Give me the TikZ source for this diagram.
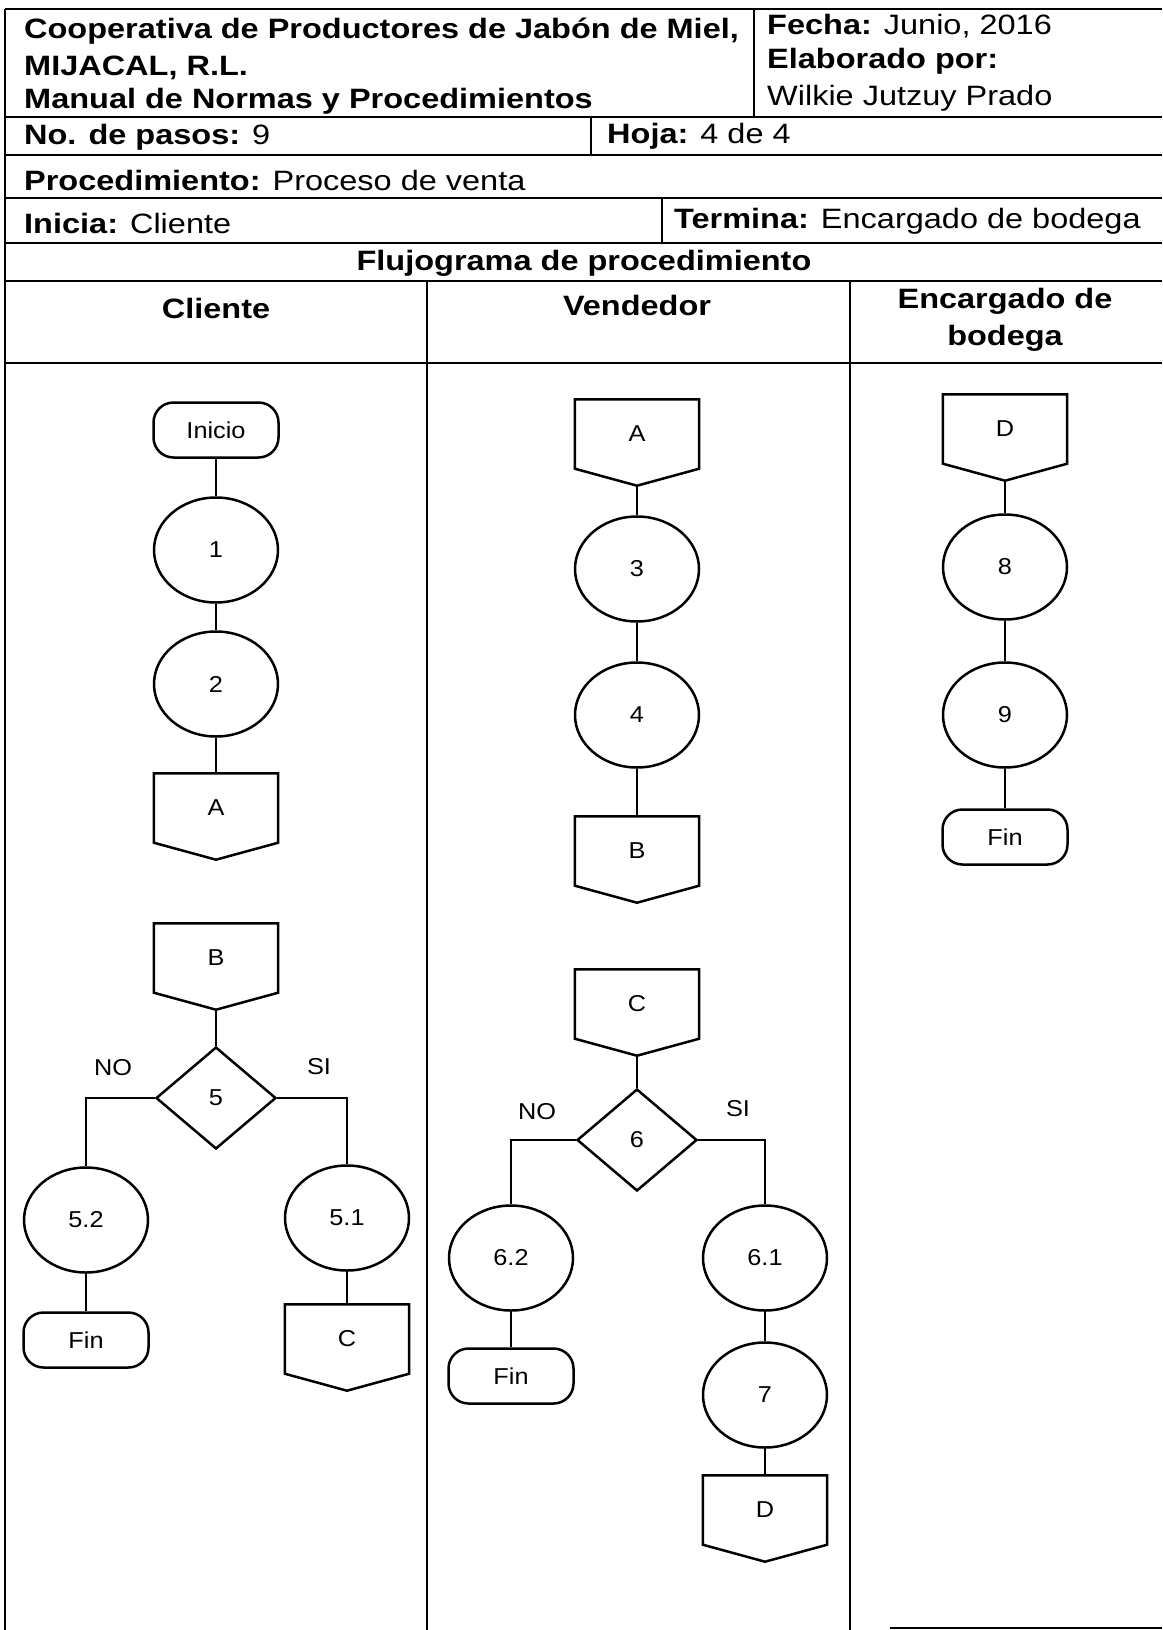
\documentclass[tikz,border=0pt]{standalone}
\usepackage{fontspec}
\setmainfont{Liberation Sans}
\usepackage{graphicx}
\usetikzlibrary{shapes.geometric,calc}
% the printed sheet uses a slightly widened Arial-like face
\newcommand\wide[1]{\scalebox{1.16}[1]{#1}}
\newcommand\fwide[1]{\scalebox{1.1}[1]{#1}}
\begin{document}
\begin{tikzpicture}[x=1pt,y=-1pt,
  grid/.style={line width=1.8pt},
  hdr/.style={anchor=west,inner sep=0pt,font=\fontsize{28}{32}\selectfont},
  colhead/.style={inner sep=0pt,font=\fontsize{28}{32}\selectfont\bfseries},
  flow/.style={draw,line width=2.5pt,font=\fontsize{23}{26}\selectfont,inner sep=0pt},
  term/.style={flow,rectangle,rounded corners=20pt,minimum width=125pt,minimum height=55pt},
  proc/.style={flow,ellipse,minimum width=124pt,minimum height=105pt},
  dec/.style={flow,diamond,minimum width=120pt,minimum height=102pt},
  offpage/.style={inner sep=0pt,font=\fontsize{23}{26}\selectfont,minimum width=124pt,minimum height=69pt},
  link/.style={line width=2.5pt},
  lbl/.style={inner sep=0pt,font=\fontsize{23}{26}\selectfont},
]
\useasboundingbox (0,0) rectangle (1162,1630);

% ---------- form grid ----------
\draw[grid] (5,9) -- (1162,9);
\foreach \y in {117,155,198,243,281,363} \draw[grid] (5,\y) -- (1162,\y);
\draw[grid] (5,9) -- (5,1630);
\draw[grid] (754,9) -- (754,117);
\draw[grid] (591,117) -- (591,155);
\draw[grid] (662,198) -- (662,243);
\draw[grid] (427,281) -- (427,1630);
\draw[grid] (850,281) -- (850,1630);
\draw[grid] (890,1628) -- (1162,1628);

% ---------- header texts ----------
\node[hdr] (h1) at (24,31) {\wide{\textbf{Cooperativa de Productores de Jabón de Miel,}}};
\node[hdr] (h2) at (24,68) {\wide{\textbf{MIJACAL, R.L.}}};
\node[hdr] (h3) at (24,101) {\wide{\textbf{Manual de Normas y Procedimientos}}};
\node[hdr] (h4) at (767,26) {\wide{\textbf{Fecha:} Junio, 2016}};
\node[hdr] (h5) at (767,61) {\wide{\textbf{Elaborado por:}}};
\node[hdr] (h6) at (767,98) {\wide{Wilkie Jutzuy Prado}};
\node[hdr] (h7) at (24,137) {\wide{\textbf{No. de pasos:} 9}};
\node[hdr] (h8) at (607,136) {\wide{\textbf{Hoja:} 4 de 4}};
\node[hdr] (h9) at (24,180) {\wide{\textbf{Procedimiento:} Proceso de venta}};
\node[hdr] (h10) at (24,223) {\wide{\textbf{Inicia:} Cliente}};
\node[hdr] (h11) at (674,221) {\wide{\textbf{Termina:} Encargado de bodega}};
\node[colhead] (h12) at (584,263) {\wide{Flujograma de procedimiento}};
\node[colhead] (lc) at (216,308) {\wide{Cliente}};
\node[colhead] (lv) at (637,305) {\wide{Vendedor}};
\node[colhead] (le1) at (1005,301) {\wide{Encargado de}};
\node[colhead] (le2) at (1005,338) {\wide{bodega}};

% ---------- Cliente ----------
\node[term] (ini) at (216,430) {\fwide{Inicio}};
\node[proc] (p1) at (216,550) {\fwide{1}};
\node[proc] (p2) at (216,684) {\fwide{2}};
\node[offpage] (cA) at (216,808) {\fwide{A}};
\node[offpage] (cB) at (216,958) {\fwide{B}};
\node[dec] (d5) at (216,1098) {\fwide{5}};
\node[proc] (p52) at (86,1220) {\fwide{5.2}};
\node[term] (f1) at (86,1340) {\fwide{Fin}};
\node[proc] (p51) at (347,1218) {\fwide{5.1}};
\node[offpage] (cC) at (347,1339) {\fwide{C}};
\node[lbl] (no5) at (113,1068) {\fwide{NO}};
\node[lbl] (si5) at (319,1067) {\fwide{SI}};

% ---------- Vendedor ----------
\node[offpage] (vA) at (637,434) {\fwide{A}};
\node[proc] (p3) at (637,569) {\fwide{3}};
\node[proc] (p4) at (637,715) {\fwide{4}};
\node[offpage] (vB) at (637,851) {\fwide{B}};
\node[offpage] (vC) at (637,1004) {\fwide{C}};
\node[dec] (d6) at (637,1140) {\fwide{6}};
\node[proc] (p62) at (511,1258) {\fwide{6.2}};
\node[term] (f2) at (511,1376) {\fwide{Fin}};
\node[proc] (p61) at (765,1258) {\fwide{6.1}};
\node[proc] (p7) at (765,1395) {\fwide{7}};
\node[offpage] (vD) at (765,1510) {\fwide{D}};
\node[lbl] (no6) at (537,1112) {\fwide{NO}};
\node[lbl] (si6) at (738,1109) {\fwide{SI}};

% ---------- Encargado de bodega ----------
\node[offpage] (bD) at (1005,429) {\fwide{D}};
\node[proc] (p8) at (1005,567) {\fwide{8}};
\node[proc] (p9) at (1005,715) {\fwide{9}};
\node[term] (f3) at (1005,837) {\fwide{Fin}};

% off-page connector outlines (box with a pointed bottom)
\foreach \n in {cA,cB,cC,vA,vB,vC,vD,bD}{
  \coordinate (\n-tip) at ([yshift=-17pt]\n.south);
  \draw[link] (\n.south west) -- (\n.north west) -- (\n.north east)
    -- (\n.south east) -- (\n-tip) -- cycle;
}

% ---------- connectors ----------
\draw[link] (ini) -- (p1);
\draw[link] (p1) -- (p2);
\draw[link] (p2) -- (cA);
\draw[link] (cB-tip) -- (d5);
\draw[link] (d5.west) -| (p52);
\draw[link] (d5.east) -| (p51);
\draw[link] (p52) -- (f1);
\draw[link] (p51) -- (cC);

\draw[link] (vA-tip) -- (p3);
\draw[link] (p3) -- (p4);
\draw[link] (p4) -- (vB);
\draw[link] (vC-tip) -- (d6);
\draw[link] (d6.west) -| (p62);
\draw[link] (d6.east) -| (p61);
\draw[link] (p62) -- (f2);
\draw[link] (p61) -- (p7);
\draw[link] (p7) -- (vD);

\draw[link] (bD-tip) -- (p8);
\draw[link] (p8) -- (p9);
\draw[link] (p9) -- (f3);
\end{tikzpicture}
\end{document}
